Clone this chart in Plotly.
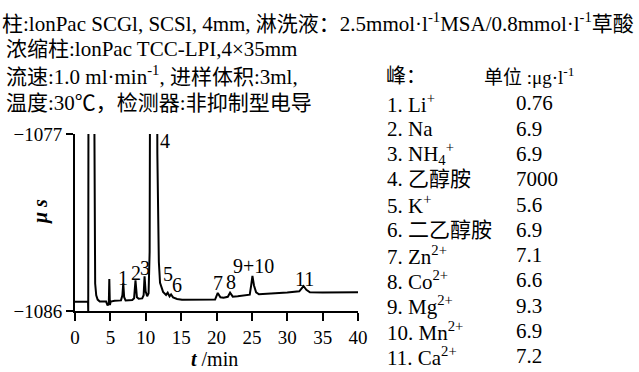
import plotly.graph_objects as go

FONT = "'Liberation Serif', 'Noto Sans CJK SC', serif"

# ---- data ----
time_min = [0.0, 1.84, 1.87, 1.95, 2.25, 2.55, 2.85, 3.0, 3.2, 3.5,
            4.4, 4.6, 4.78, 4.85, 4.93, 5.05, 5.6, 6.5, 6.7, 6.82, 6.95, 7.15,
            8.1, 8.35, 8.55, 8.75, 9.0, 9.5, 9.7, 9.83, 9.98, 10.2, 10.4, 10.55,
            10.7, 11.1, 11.5, 11.64, 11.85, 12.02, 12.45, 12.87, 13.1, 13.37,
            13.58, 13.86, 14.43, 15.13, 17.0, 19.8, 20.18, 20.55, 21.0, 21.6,
            21.92, 22.3, 23.0, 24.0, 24.7, 24.9, 25.08, 25.3, 25.6, 26.0, 28.0,
            30.0, 31.7, 32.3, 32.7, 33.2, 35.0, 40.0]
signal_us = [-1085.53, -1085.53, -1086.0, -1060.0, -1040.0, -1060.0, -1084.6, -1085.2, -1085.42, -1085.52,
             -1085.52, -1085.72, -1085.6, -1084.37, -1085.7, -1085.52, -1085.48, -1085.46, -1085.2, -1084.59, -1085.3, -1085.46,
             -1085.44, -1085.35, -1084.44, -1085.3, -1085.38, -1085.36, -1085.2, -1084.24, -1085.0, -1085.25, -1085.1, -1083.0,
             -1060.0, -1040.0, -1060.0, -1078.0, -1083.5, -1084.57, -1085.03, -1085.18, -1085.07, -1085.26,
             -1085.16, -1085.31, -1085.39, -1085.43, -1085.44, -1085.42, -1085.08, -1085.3, -1085.32, -1085.28,
             -1085.07, -1085.27, -1085.25, -1085.2, -1085.17, -1084.7, -1084.22, -1084.7, -1085.05, -1085.15, -1085.12,
             -1085.06, -1085.0, -1084.73, -1084.92, -1085.05, -1085.06, -1085.05]

x_ticks = [0, 5, 10, 15, 20, 25, 30, 35, 40]
y_ticks = [-1086, -1077]

peak_labels = ["1", "2", "3", "4", "5", "6", "7", "8", "9+10", "11"]
peak_label_t = [6.75, 8.63, 9.9, 12.73, 13.2, 14.38, 20.27, 22.07, 25.22, 32.39]
peak_label_v = [-1084.33, -1084.08, -1083.82, -1077.38, -1084.14, -1084.67, -1084.59, -1084.51, -1083.69, -1084.37]

header_lines = [
    "柱:lonPac SCGl, SCSl, 4mm, 淋洗液：2.5mmol·l<sup>-1</sup>MSA/0.8mmol·l<sup>-1</sup>草酸",
    "浓缩柱:lonPac TCC-LPI,4×35mm",
    "流速:1.0 ml·min<sup>-1</sup>, 进样体积:3ml,",
    "温度:30℃，检测器:非抑制型电导",
]
table_header = ["峰：", "单位 :μg·l<sup>-1</sup>"]
peak_names = ["1. Li<sup>+</sup>", "2. Na", "3. NH<sub>4</sub><sup>+</sup>", "4. 乙醇胺", "5. K<sup>+</sup>",
              "6. 二乙醇胺", "7. Zn<sup>2+</sup>", "8. Co<sup>2+</sup>", "9. Mg<sup>2+</sup>",
              "10. Mn<sup>2+</sup>", "11. Ca<sup>2+</sup>"]
peak_conc = ["0.76", "6.9", "6.9", "7000", "5.6", "6.9", "7.1", "6.6", "9.3", "6.9", "7.2"]

# ---- layout geometry (pixels) ----
W, H = 639, 372
ML, MR, MT, MB = 75, 281, 134, 61
PW, PH = W - ML - MR, H - MT - MB


def px(x):
    return (x - ML) / PW


def py(y):
    return (H - MB - y) / PH


fig = go.Figure()
fig.add_trace(go.Scatter(x=time_min, y=signal_us, mode="lines",
                         line=dict(color="black", width=2), hoverinfo="skip"))

ann = []
for lab, t, v in zip(peak_labels, peak_label_t, peak_label_v):
    ann.append(dict(x=t, y=v, xref="x", yref="y", text=lab, showarrow=False,
                    font=dict(size=20, family=FONT, color="black")))

line_y = [22, 49, 76, 103]
line_x = [0, 4, 4, 4]
for txt, xx, yy in zip(header_lines, line_x, line_y):
    ann.append(dict(x=px(xx), y=py(yy), xref="paper", yref="paper", text=txt,
                    showarrow=False, xanchor="left", yanchor="middle",
                    font=dict(size=21, family=FONT, color="black")))

ann.append(dict(x=px(384), y=py(76), xref="paper", yref="paper", text=table_header[0],
                showarrow=False, xanchor="left", yanchor="middle",
                font=dict(size=20, family=FONT, color="black")))
ann.append(dict(x=px(482), y=py(76), xref="paper", yref="paper", text=table_header[1],
                showarrow=False, xanchor="left", yanchor="middle",
                font=dict(size=19, family=FONT, color="black")))
for i, (nm, cv) in enumerate(zip(peak_names, peak_conc)):
    yy = 103.3 + i * 25.3
    ann.append(dict(x=px(385), y=py(yy), xref="paper", yref="paper", text=nm,
                    showarrow=False, xanchor="left", yanchor="middle",
                    font=dict(size=21, family=FONT, color="black")))
    ann.append(dict(x=px(514), y=py(yy), xref="paper", yref="paper", text=cv,
                    showarrow=False, xanchor="left", yanchor="middle",
                    font=dict(size=21, family=FONT, color="black")))

# axis titles
ann.append(dict(x=px(40), y=py(212), xref="paper", yref="paper", text="<b><i>μ s</i></b>",
                showarrow=False, textangle=-90, xanchor="center", yanchor="middle",
                font=dict(size=20, family=FONT, color="black")))
ann.append(dict(x=px(214), y=py(359), xref="paper", yref="paper", text="<b><i>t</i></b> /min",
                showarrow=False, xanchor="center", yanchor="middle",
                font=dict(size=20, family=FONT, color="black")))

fig.update_layout(
    width=W, height=H,
    margin=dict(l=ML, r=MR, t=MT, b=MB),
    paper_bgcolor="white", plot_bgcolor="white",
    showlegend=False,
    font=dict(family=FONT, color="black"),
    annotations=ann,
    xaxis=dict(range=[0, 40], tickvals=x_ticks, ticks="outside", ticklen=8, tickwidth=2,
               tickcolor="black", showline=True, linewidth=2, linecolor="black",
               showgrid=False, zeroline=False, tickfont=dict(size=19, family=FONT, color="black")),
    yaxis=dict(range=[-1086, -1077], tickvals=y_ticks, ticks="outside", ticklen=7, tickwidth=2,
               tickcolor="black", showline=True, linewidth=2, linecolor="black",
               showgrid=False, zeroline=False, tickfont=dict(size=19, family=FONT, color="black")),
)

fig.write_html("out.html", config={"displayModeBar": False},
               post_script="document.body.style.margin='0';document.body.style.overflow='hidden';")
